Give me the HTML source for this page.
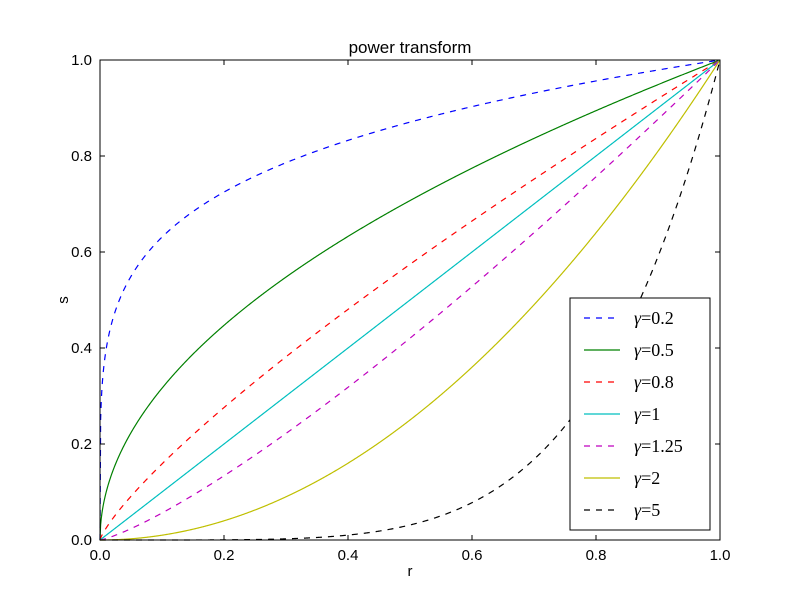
<!DOCTYPE html>
<html><head><meta charset="utf-8"><style>body{margin:0;background:#fff}svg{display:block}text{font-family:"Liberation Sans",sans-serif}</style></head>
<body>
<svg id="chart" width="800" height="600" xmlns="http://www.w3.org/2000/svg">
<rect width="800" height="600" fill="#fff"/>
<text x="410" y="53" font-size="17" text-anchor="middle">power transform</text>
<text x="410" y="576" font-size="15" text-anchor="middle">r</text>
<text x="64" y="304" font-size="15" text-anchor="middle" transform="rotate(-90 64 300)">s</text>
<g id="plot"></g>
</svg>
<script>
const gammas=[0.2,0.5,0.8,1,1.25,2,5];
const labels=["0.2","0.5","0.8","1","1.25","2","5"];
const colors=["#0000ff","#008000","#ff0000","#00bfbf","#bf00bf","#bfbf00","#000000"];
const dashed=[true,false,true,false,true,false,true];
const xTicks=["0.0","0.2","0.4","0.6","0.8","1.0"];
const yTicks=["0.0","0.2","0.4","0.6","0.8","1.0"];
const L=100,R=720,T=60,B=540;
const sx=v=>L+v*(R-L), sy=v=>B-v*(B-T);
const NS="http://www.w3.org/2000/svg";
const g=document.getElementById('plot');
function mk(t,a){const e=document.createElementNS(NS,t);for(const k in a)e.setAttribute(k,a[k]);g.appendChild(e);return e;}
gammas.forEach((gm,i)=>{
  let d="";
  for(let k=0;k<=1000;k++){const r=k/1000;d+=(k?"L":"M")+sx(r).toFixed(2)+","+sy(Math.pow(r,gm)).toFixed(2);}
  const p=mk('path',{d:d,fill:'none',stroke:colors[i],'stroke-width':1.2});
  if(dashed[i])p.setAttribute('stroke-dasharray','6,6');
  
  
});
mk('rect',{x:L,y:T,width:R-L,height:B-T,fill:'none',stroke:'#000','stroke-width':1});
xTicks.forEach((t,i)=>{const x=sx(parseFloat(t));
  mk('line',{x1:x,y1:B,x2:x,y2:B-5,stroke:'#000'});mk('line',{x1:x,y1:T,x2:x,y2:T+5,stroke:'#000'});
  const e=mk('text',{x:x,y:B+20,'font-size':15,'text-anchor':'middle'});e.textContent=t;
  
  
});
yTicks.forEach((t,i)=>{const y=sy(parseFloat(t));
  mk('line',{x1:L,y1:y,x2:L+5,y2:y,stroke:'#000'});mk('line',{x1:R,y1:y,x2:R-5,y2:y,stroke:'#000'});
  const e=mk('text',{x:L-8,y:y+5,'font-size':15,'text-anchor':'end'});e.textContent=t;
  
  
});
const lg=mk('rect',{x:570,y:298,width:140,height:232,fill:'#fff',stroke:'#000'});


gammas.forEach((gm,i)=>{const y=318+i*32;
  const l=mk('line',{x1:584,y1:y,x2:620,y2:y,stroke:colors[i],'stroke-width':1.2});
  if(dashed[i])l.setAttribute('stroke-dasharray','6,6');
  const e=mk('text',{x:634,y:y+6,style:'font-family:"Liberation Serif",serif;font-size:18px'});
  e.innerHTML='<tspan font-style="italic">γ</tspan>=' + labels[i];
  
  
});
</script>
</body></html>
